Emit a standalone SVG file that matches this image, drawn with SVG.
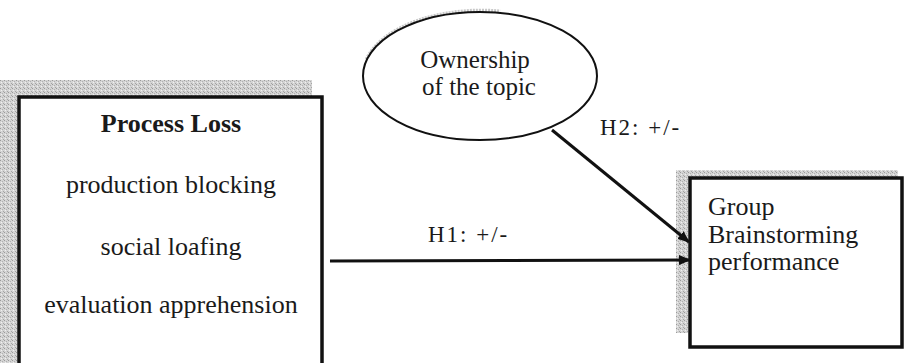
<svg xmlns="http://www.w3.org/2000/svg" width="905" height="363" viewBox="0 0 905 363">
  <defs>
    <pattern id="grain" width="4" height="4" patternUnits="userSpaceOnUse">
      <rect width="4" height="4" fill="#d4d4d4"/>
      <rect x="0" y="0" width="1" height="1" fill="#9a9a9a"/>
      <rect x="2" y="1" width="1" height="1" fill="#b0b0b0"/>
      <rect x="1" y="2" width="1" height="1" fill="#f0f0f0"/>
      <rect x="3" y="3" width="1" height="1" fill="#a5a5a5"/>
    </pattern>
    <marker id="arrow" viewBox="0 0 12 10" refX="11" refY="5" markerWidth="12" markerHeight="10" markerUnits="userSpaceOnUse" orient="auto">
      <path d="M0,0 L12,5 L0,10 z" fill="#111"/>
    </marker>
  </defs>
  <style>
    text { font-family: "Liberation Serif", "Times New Roman", serif; fill: #1a1a1a; }
    .t26 { font-size: 26px; }
    .t25 { font-size: 25px; }
    .lbl { font-size: 23px; letter-spacing: 2px; }
    .box { fill: #fff; stroke: #111; stroke-width: 3.5; }
    .shade { fill: url(#grain); }
    .edge { stroke: #111; stroke-width: 3; fill: none; }
  </style>
  <rect width="905" height="363" fill="#fff"/>

  <g id="process-loss">
    <rect class="shade" x="0" y="80" width="312" height="17"/>
    <rect class="shade" x="0" y="80" width="18" height="283"/>
    <path class="box" d="M19,375 L19,97 L322,97 L322,375"/>
    <text class="t26" x="171" y="132" text-anchor="middle" font-weight="bold">Process Loss</text>
    <text class="t26" x="171" y="193" text-anchor="middle">production blocking</text>
    <text class="t26" x="171" y="255" text-anchor="middle">social loafing</text>
    <text class="t26" x="171" y="313" text-anchor="middle">evaluation apprehension</text>
  </g>

  <g id="ownership">
    <path d="M368,60 A117,64 0 0 1 500,13" fill="none" stroke="#c8c8c8" stroke-width="7" stroke-dasharray="2 1"/>
    <ellipse cx="480" cy="76" rx="117" ry="64" fill="#fff" stroke="#111" stroke-width="2"/>
    <text class="t25" x="475" y="68" text-anchor="middle">Ownership</text>
    <text class="t25" x="479" y="95" text-anchor="middle">of the topic</text>
  </g>

  <g id="performance">
    <rect class="shade" x="676" y="170" width="222" height="8"/>
    <rect class="shade" x="676" y="170" width="12" height="163"/>
    <rect class="box" x="690" y="178" width="212" height="169"/>
    <text class="t26" x="708" y="215">Group</text>
    <text class="t26" x="708" y="243">Brainstorming</text>
    <text class="t26" x="708" y="270">performance</text>
  </g>

  <g id="connectors">
    <line class="edge" x1="330" y1="261" x2="690" y2="260" marker-end="url(#arrow)"/>
    <line class="edge" x1="552" y1="130" x2="689" y2="242" marker-end="url(#arrow)"/>
    <text class="lbl" x="428" y="242">H1: +/-</text>
    <text class="lbl" x="600" y="135">H2: +/-</text>
  </g>
</svg>
